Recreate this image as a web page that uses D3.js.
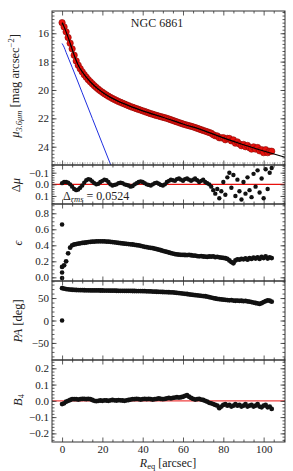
<!DOCTYPE html>
<html>
<head>
<meta charset="utf-8">
<script src="https://cdn.jsdelivr.net/npm/d3@7"></script>
<style>
  body { margin: 0; background: #fff; }
  text { font-family: "Liberation Serif", "DejaVu Serif", serif; fill: #222; }
</style>
</head>
<body>
<script>
// radii of the isophote fits [arcsec]
const radius = [0,1,2,3,4,5,6,7,8,9,10,11,12,13,14,15,16,17,18,19,20,21,22,23,24,25,26,27,28,29,
  30,31,32,33,34,35,36,37,38,39,40,41,42,43,44,45,46,47,48,49,50,51,52,53,54,55,56,57,58,59,
  60,61,62,63,64,65,66,67,68,69,70,71,72,73,74,75,76,77,78,79,80,81,82,83,84,85,86,87,88,89,
  90,91,92,93,94,95,96,97,98,99,100,101,102,103,104]

// surface brightness profile (red points)
const muObs = [15.25,15.55,15.9,16.3,16.7,17.1,17.55,17.95,18.25,18.5,18.72,18.92,19.1,19.27,19.42,19.56,19.7,19.83,19.95,20.06,
  20.16,20.26,20.35,20.44,20.52,20.6,20.67,20.74,20.81,20.87,20.93,20.99,21.05,21.11,21.17,21.22,21.27,21.32,21.37,21.42,
  21.47,21.52,21.57,21.62,21.67,21.71,21.76,21.8,21.84,21.88,21.92,21.96,22.0,22.05,22.1,22.15,22.2,22.25,22.3,22.35,
  22.4,22.44,22.48,22.52,22.56,22.6,22.65,22.7,22.75,22.8,22.85,22.9,22.95,23.0,23.05,23.15,23.23,23.24,23.37,23.38,
  23.36,23.51,23.41,23.42,23.59,23.52,23.75,23.66,23.81,23.93,23.84,24.0,23.91,24.07,24.17,24.01,24.17,24.06,24.29,24.21,
  24.42,24.21,24.42,24.32,24.32]

// model (black) and disc component (blue)
const modelR = [0,1,2,4,6,8,10,14,18,24,30,40,50,60,70,80,90,100,110.6]
const modelMu = [15.25,15.55,15.9,16.7,17.55,18.25,18.72,19.42,19.95,20.52,20.93,21.47,21.92,22.4,22.85,23.38,23.86,24.3,24.74]
const discR = [0,1,2,5,10,15,20,26]
const discMu = [16.72,16.98,17.35,18.4,20.2,22.0,23.8,25.95]

// residuals
const dMu = [-0.01,-0.02,-0.02,-0.015,0.0,0.02,0.04,0.05,0.045,0.03,0.01,-0.015,-0.035,-0.045,-0.04,-0.025,-0.01,0.0,-0.005,-0.02,
  -0.03,-0.04,-0.035,-0.02,0.0,0.01,0.005,0.0,-0.01,-0.015,-0.01,0.0,0.005,0.01,0.02,0.015,0.0,-0.01,-0.02,-0.025,
  -0.02,-0.01,0.0,0.005,0.01,0.0,-0.01,-0.015,-0.005,0.005,0.01,0.0,-0.02,-0.03,-0.04,-0.035,-0.03,-0.045,-0.05,-0.04,
  -0.03,-0.045,-0.05,-0.04,-0.03,-0.04,-0.05,-0.035,-0.02,-0.03,-0.04,-0.02,-0.01,0.0,0.02,0.05,0.08,0.04,0.12,0.06,
  -0.02,0.09,-0.06,-0.1,0.03,-0.08,0.1,-0.04,0.06,0.13,-0.02,0.08,-0.06,0.05,0.11,-0.09,0.02,-0.12,0.07,-0.05,
  0.12,-0.13,0.04,-0.1,-0.14]

// ellipticity
const ellip = [0.13,0.15,0.2,0.3,0.37,0.4,0.41,0.415,0.42,0.425,0.43,0.432,0.435,0.44,0.442,0.445,0.447,0.448,0.45,0.45,
  0.45,0.449,0.447,0.445,0.443,0.44,0.437,0.434,0.43,0.427,0.424,0.42,0.418,0.415,0.412,0.41,0.406,0.402,0.398,0.393,
  0.387,0.381,0.376,0.372,0.368,0.364,0.358,0.352,0.345,0.338,0.331,0.324,0.317,0.31,0.303,0.297,0.29,0.286,0.283,0.281,
  0.28,0.279,0.278,0.28,0.276,0.272,0.27,0.266,0.262,0.265,0.26,0.258,0.255,0.26,0.258,0.262,0.252,0.256,0.25,0.245,
  0.242,0.238,0.23,0.21,0.19,0.175,0.21,0.225,0.22,0.23,0.225,0.235,0.22,0.24,0.23,0.245,0.235,0.25,0.23,0.255,
  0.24,0.26,0.235,0.25,0.24]
const ellipCentreR = [0,0,0]
const ellipCentre = [0.66,0.06,-0.01]

// position angle [deg]
const pa = [72,71,70,69.5,69,68.5,68.2,68,67.8,67.6,67.5,67.4,67.3,67.2,67.1,67,67,66.9,66.9,66.8,
  66.8,66.7,66.7,66.6,66.5,66.5,66.4,66.3,66.2,66.2,66.1,66,65.9,65.9,65.8,65.7,65.7,65.6,65.5,65.5,
  65.4,65.3,65.1,64.9,64.7,64.5,64.3,64.1,63.9,63.7,63.5,63.3,63.1,62.9,62.7,62.5,62,61.5,61,60.5,
  60,59.5,59,58,57.5,57,56.5,56,55.5,55,54.5,54,53,52,51,50,49,48,47.5,47,
  46.5,46,45.5,45,45.5,44.5,44,44.5,43.5,44,43,43.5,42.5,42,41,40,39,38,37,38.5,
  41,43,45,44,42]
const paCentreR = [0]
const paCentre = [0]

// fourth cosine harmonic
const b4 = [-0.02,-0.015,-0.005,0.0,0.005,0.01,0.01,0.01,0.008,0.01,0.012,0.012,0.01,0.012,0.01,0.005,0.0,-0.002,0.0,0.002,
  0.0,0.003,0.002,0.0,0.003,0.005,0.003,0.002,0.004,0.003,0.002,0.0,0.003,0.005,0.008,0.01,0.01,0.012,0.01,0.008,
  0.01,0.012,0.01,0.012,0.01,0.008,0.01,0.012,0.015,0.012,0.01,0.012,0.015,0.018,0.015,0.018,0.02,0.022,0.02,0.022,
  0.025,0.03,0.035,0.025,0.018,0.012,0.008,0.01,0.012,0.008,0.005,0.0,-0.005,-0.012,-0.015,-0.02,-0.025,-0.03,-0.045,-0.035,
  -0.025,-0.02,-0.03,-0.025,-0.035,-0.03,-0.02,-0.03,-0.025,-0.035,-0.03,-0.02,-0.035,-0.03,-0.025,-0.035,-0.03,-0.02,-0.035,-0.04,
  -0.03,-0.025,-0.04,-0.035,-0.05]

const xMajor = [0,20,40,60,80,100]
const xMinor = [5,10,15,25,30,35,45,50,55,65,70,75,85,90,95,105,110]

const W = 293, H = 471
const left = 52, right = 285
const frameColor = "#333"

const svg = d3.select("body").append("svg")
  .attr("width", W)
  .attr("height", H)

const x = d3.scaleLinear().domain([-5, 110.6]).range([left, right])

// generic panel with frame and inward ticks on all sides
function panel(top, bottom, domain, major, minor, fmt, showX) {
  const y = d3.scaleLinear().domain(domain).range([bottom, top])
  const g = svg.append("g")
  const clipId = "clip" + top
  svg.append("clipPath").attr("id", clipId)
    .append("rect").attr("x", left).attr("y", top).attr("width", right - left).attr("height", bottom - top)
  const plot = g.append("g").attr("clip-path", "url(#" + clipId + ")")
  const axes = g.append("g")

  axes.append("g").attr("transform", "translate(" + left + ",0)")
    .call(d3.axisLeft(y).tickValues(major).tickSize(-4.5).tickPadding(3).tickFormat(fmt))
  axes.append("g").attr("transform", "translate(" + left + ",0)")
    .call(d3.axisLeft(y).tickValues(minor).tickSize(-2.5).tickFormat(""))
  axes.append("g").attr("transform", "translate(" + right + ",0)")
    .call(d3.axisRight(y).tickValues(major).tickSize(-4.5).tickFormat(""))
  axes.append("g").attr("transform", "translate(" + right + ",0)")
    .call(d3.axisRight(y).tickValues(minor).tickSize(-2.5).tickFormat(""))
  axes.append("g").attr("transform", "translate(0," + top + ")")
    .call(d3.axisTop(x).tickValues(xMajor).tickSize(-4.5).tickFormat(""))
  axes.append("g").attr("transform", "translate(0," + top + ")")
    .call(d3.axisTop(x).tickValues(xMinor).tickSize(-2.5).tickFormat(""))
  axes.append("g").attr("transform", "translate(0," + bottom + ")")
    .call(d3.axisBottom(x).tickValues(xMajor).tickSize(-4.5).tickPadding(3)
      .tickFormat(showX ? d3.format("d") : ""))
  axes.append("g").attr("transform", "translate(0," + bottom + ")")
    .call(d3.axisBottom(x).tickValues(xMinor).tickSize(-2.5).tickFormat(""))

  axes.selectAll(".domain").remove()
  axes.selectAll(".tick line").attr("stroke", frameColor).attr("stroke-width", 0.8)
  axes.selectAll(".tick text").attr("font-size", 11).attr("fill", "#222")
    .style("font-family", '"Liberation Serif", serif')
  axes.append("rect")
    .attr("x", left).attr("y", top)
    .attr("width", right - left).attr("height", bottom - top)
    .attr("fill", "none").attr("stroke", frameColor).attr("stroke-width", 1)
  return { y: y, plot: plot, axes: axes }
}

function dots(plot, xs, ys, y, r) {
  plot.selectAll(null)
    .data(xs)
    .enter()
    .append("circle")
    .attr("cx", (d) => x(d))
    .attr("cy", (d, i) => y(ys[i]))
    .attr("r", r)
    .attr("fill", "#111")
}

function rotLabel(xp, yp) {
  return svg.append("text")
    .attr("transform", "translate(" + xp + "," + yp + ") rotate(-90)")
    .attr("text-anchor", "middle")
    .attr("font-size", 12.5)
}

// ---- surface brightness
const p1 = panel(11, 165, [25.29, 14.43], [16, 18, 20, 22, 24],
  d3.range(14.5, 25.3, 0.25), d3.format("d"), false)
p1.plot.selectAll(null)
  .data(radius)
  .enter()
  .append("circle")
  .attr("cx", (d) => x(d))
  .attr("cy", (d, i) => p1.y(muObs[i]))
  .attr("r", 3.2)
  .attr("fill", "#e8100c")
  .attr("stroke", "#8a0c08")
  .attr("stroke-width", 0.6)
p1.plot.append("path")
  .datum(modelR)
  .attr("fill", "none")
  .attr("stroke", "#000")
  .attr("stroke-width", 1.2)
  .attr("d", d3.line().x((d) => x(d)).y((d, i) => p1.y(modelMu[i])).curve(d3.curveMonotoneX))
p1.plot.append("path")
  .datum(discR)
  .attr("fill", "none")
  .attr("stroke", "#1f2fe0")
  .attr("stroke-width", 1)
  .attr("d", d3.line().x((d) => x(d)).y((d, i) => p1.y(discMu[i])).curve(d3.curveMonotoneX))
svg.append("line")
  .attr("x1", left).attr("x2", right).attr("y1", 163).attr("y2", 163)
  .attr("stroke", "#777").attr("stroke-width", 0.8).attr("stroke-dasharray", "1,1.5")
svg.append("text").attr("x", 157).attr("y", 27).attr("text-anchor", "middle")
  .attr("font-size", 12).text("NGC 6861")
const muLab = rotLabel(19, 86)
muLab.append("tspan").attr("font-style", "italic").text("μ")
muLab.append("tspan").attr("font-size", 8.5).attr("font-style", "italic").attr("dy", 3).text("3.6μm")
muLab.append("tspan").attr("dy", -3).text(" [mag arcsec")
muLab.append("tspan").attr("font-size", 8.5).attr("dy", -5).text("−2")
muLab.append("tspan").attr("dy", 5).text("]")

// ---- residuals
const p2 = panel(165, 204, [0.169, -0.166], [-0.1, 0.0, 0.1],
  d3.range(-0.16, 0.17, 0.02), d3.format(".1f"), false)
p2.plot.append("line")
  .attr("x1", left).attr("x2", right).attr("y1", p2.y(0)).attr("y2", p2.y(0))
  .attr("stroke", "#e8100c").attr("stroke-width", 1.2)
dots(p2.plot, radius, dMu, p2.y, 2.2)
const rms = svg.append("text").attr("x", 63).attr("y", 200).attr("font-size", 12)
rms.append("tspan").text("Δ")
rms.append("tspan").attr("font-size", 8.5).attr("font-style", "italic").attr("dy", 2).text("rms")
rms.append("tspan").attr("dy", -2).text(" = 0.0524")
const dLab = rotLabel(20, 185)
dLab.append("tspan").text("Δ")
dLab.append("tspan").attr("font-style", "italic").text("μ")

// ---- ellipticity
const p3 = panel(204, 281, [-0.046, 0.916], [0.0, 0.2, 0.4, 0.6, 0.8],
  d3.range(-0.05, 0.92, 0.05), d3.format(".1f"), false)
dots(p3.plot, radius, ellip, p3.y, 2.4)
dots(p3.plot, ellipCentreR, ellipCentre, p3.y, 2.3)
rotLabel(22, 243).attr("font-style", "italic").text("ϵ")

// ---- position angle
const p4 = panel(281, 360, [-88, 88], [-50, 0, 50],
  d3.range(-80, 90, 10), d3.format("d"), false)
dots(p4.plot, radius, pa, p4.y, 2.4)
dots(p4.plot, paCentreR, paCentre, p4.y, 2.3)
const paLab = rotLabel(22, 321)
paLab.append("tspan").attr("font-style", "italic").text("PA")
paLab.append("tspan").text(" [deg]")

// ---- b4
const p5 = panel(360, 442, [-0.253, 0.251], [-0.2, -0.1, 0.0, 0.1, 0.2],
  d3.range(-0.24, 0.25, 0.02), d3.format(".1f"), true)
p5.plot.append("line")
  .attr("x1", left).attr("x2", right).attr("y1", p5.y(0)).attr("y2", p5.y(0))
  .attr("stroke", "#f04040").attr("stroke-width", 1.2)
dots(p5.plot, radius, b4, p5.y, 2.4)
const bLab = rotLabel(22, 400)
bLab.append("tspan").attr("font-style", "italic").text("B")
bLab.append("tspan").attr("font-size", 8.5).attr("dy", 2).text("4")

const xLab = svg.append("text").attr("x", 168).attr("y", 467).attr("text-anchor", "middle").attr("font-size", 12)
xLab.append("tspan").attr("font-style", "italic").text("R")
xLab.append("tspan").attr("font-size", 8.5).attr("dy", 1.5).text("eq")
xLab.append("tspan").attr("dy", -1.5).text(" [arcsec]")
</script>
</body>
</html>
